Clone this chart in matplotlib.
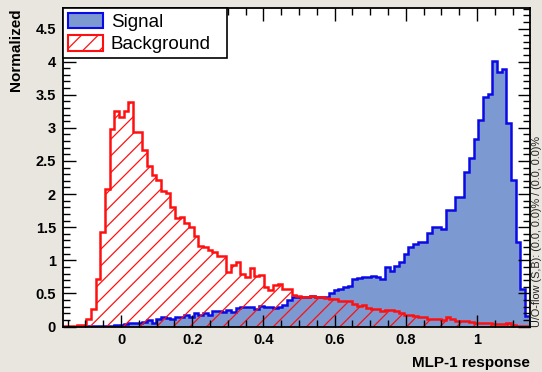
import numpy as np
import matplotlib.pyplot as plt
from matplotlib.patches import Patch
from matplotlib.ticker import MultipleLocator, FormatStrFormatter

# Histogram range and bin contents (100 bins)
x_range = (-0.163, 1.148)

signal = [
    0.0, 0.0, 0.0, 0.0, 0.005, 0.005, 0.005, 0.005, 0.005, 0.005,
    0.01, 0.02, 0.03, 0.04, 0.05, 0.05, 0.05, 0.07, 0.10, 0.06,
    0.11, 0.15, 0.13, 0.11, 0.15, 0.15, 0.17, 0.14, 0.21, 0.17,
    0.21, 0.17, 0.23, 0.24, 0.22, 0.25, 0.22, 0.28, 0.30, 0.30,
    0.29, 0.27, 0.31, 0.30, 0.29, 0.28, 0.30, 0.33, 0.40, 0.44,
    0.45, 0.45, 0.44, 0.46, 0.45, 0.45, 0.45, 0.50, 0.55, 0.57,
    0.59, 0.61, 0.71, 0.74, 0.75, 0.75, 0.77, 0.75, 0.72, 0.90,
    0.84, 0.92, 0.98, 1.10, 1.20, 1.25, 1.28, 1.27, 1.41, 1.50,
    1.51, 1.48, 1.76, 1.76, 1.96, 1.95, 2.34, 2.55, 2.83, 3.12,
    3.47, 3.51, 4.01, 3.84, 3.89, 3.08, 2.21, 1.27, 0.56, 0.16,
]

background = [
    0.01, 0.01, 0.01, 0.02, 0.03, 0.12, 0.27, 0.72, 1.43, 2.07,
    2.98, 3.26, 3.17, 3.25, 3.39, 2.93, 2.93, 2.67, 2.43, 2.29,
    2.21, 2.05, 2.02, 1.80, 1.64, 1.65, 1.57, 1.50, 1.36, 1.22,
    1.20, 1.16, 1.12, 1.07, 1.06, 0.83, 0.93, 0.97, 0.79, 0.75,
    0.89, 0.76, 0.78, 0.60, 0.55, 0.63, 0.64, 0.57, 0.56, 0.47,
    0.46, 0.45, 0.44, 0.46, 0.45, 0.44, 0.43, 0.42, 0.41, 0.39,
    0.39, 0.38, 0.34, 0.31, 0.33, 0.28, 0.27, 0.26, 0.24, 0.25,
    0.25, 0.23, 0.20, 0.18, 0.18, 0.16, 0.14, 0.15, 0.11, 0.12,
    0.11, 0.10, 0.15, 0.11, 0.08, 0.08, 0.08, 0.07, 0.06, 0.05,
    0.05, 0.05, 0.04, 0.04, 0.04, 0.05, 0.02, 0.01, 0.01, 0.005,
]

overflow_text = "U/O-flow (S,B): (0.0, 0.0)% / (0.0, 0.0)%"

SIG_FILL = "#7d99d1"
SIG_LINE = "#0a0ae6"
BKG_LINE = "#ff1010"
CANVAS = "#e8e6de"

plt.rcParams["font.family"] = ["Liberation Sans", "DejaVu Sans"]
plt.rcParams["hatch.linewidth"] = 0.9

edges = np.linspace(x_range[0], x_range[1], len(signal) + 1)

fig = plt.figure(figsize=(5.42, 3.72), dpi=100, facecolor=CANVAS)
ax = fig.add_axes([63 / 542, 1 - 326.5 / 372, 466.6 / 542, 318.5 / 372])
ax.set_facecolor("white")

# signal: filled, then outline
ax.stairs(signal, edges, fill=True, facecolor=SIG_FILL, linewidth=0)
ax.stairs(signal, edges, color=SIG_LINE, linewidth=1.8)

# background: hatched, transparent
ax.stairs(background, edges, fill=True, facecolor="none",
          edgecolor=BKG_LINE, hatch="//", linewidth=0)
ax.stairs(background, edges, color=BKG_LINE, linewidth=1.8)

ax.set_xlim(x_range)
ax.set_ylim(0, 4.81)

ax.xaxis.set_major_locator(MultipleLocator(0.2))
ax.xaxis.set_minor_locator(MultipleLocator(0.05))
ax.yaxis.set_major_locator(MultipleLocator(0.5))
ax.yaxis.set_minor_locator(MultipleLocator(0.1))
ax.yaxis.set_major_formatter(FormatStrFormatter("%g"))
ax.xaxis.set_major_formatter(FormatStrFormatter("%g"))

ax.tick_params(which="both", direction="in", top=True, right=True,
               width=1.0, color="black")
ax.tick_params(which="major", length=9)
ax.tick_params(which="minor", length=5)
ax.tick_params(axis="x", pad=5)
ax.tick_params(axis="y", pad=5)
for lab in ax.get_xticklabels() + ax.get_yticklabels():
    lab.set_fontweight("bold")
    lab.set_fontsize(10.5)
for sp in ax.spines.values():
    sp.set_linewidth(1.3)

ax.set_xlabel("MLP-1 response", fontsize=11, fontweight="bold", ha="right")
ax.xaxis.set_label_coords(1.0, -0.093)
ax.set_ylabel("Normalized", fontsize=11, fontweight="bold", loc="top")
ax.yaxis.set_label_coords(-0.086, 1.0)

handles = [
    Patch(facecolor=SIG_FILL, edgecolor=SIG_LINE, linewidth=1.5, label="Signal"),
    Patch(facecolor="white", edgecolor=BKG_LINE, hatch="//", linewidth=1.5,
          label="Background"),
]
# legend box spans roughly a third of the frame width, like the ROOT TLegend
leg = ax.legend(handles=handles, loc="upper left",
                bbox_to_anchor=(0, 0, 0.352, 1), mode="expand",
                borderaxespad=0, fontsize=13.5, frameon=True, fancybox=False,
                edgecolor="black", framealpha=1, handlelength=1.9,
                handleheight=0.9, handletextpad=0.4, borderpad=0.25,
                labelspacing=0.22)
leg.get_frame().set_linewidth(1.2)

fig.text(537 / 542, 1 - 327 / 372, overflow_text, rotation=90,
         ha="center", va="bottom", fontsize=7.8, color="#222222")

fig.savefig("out.png", dpi=100, facecolor=CANVAS)
